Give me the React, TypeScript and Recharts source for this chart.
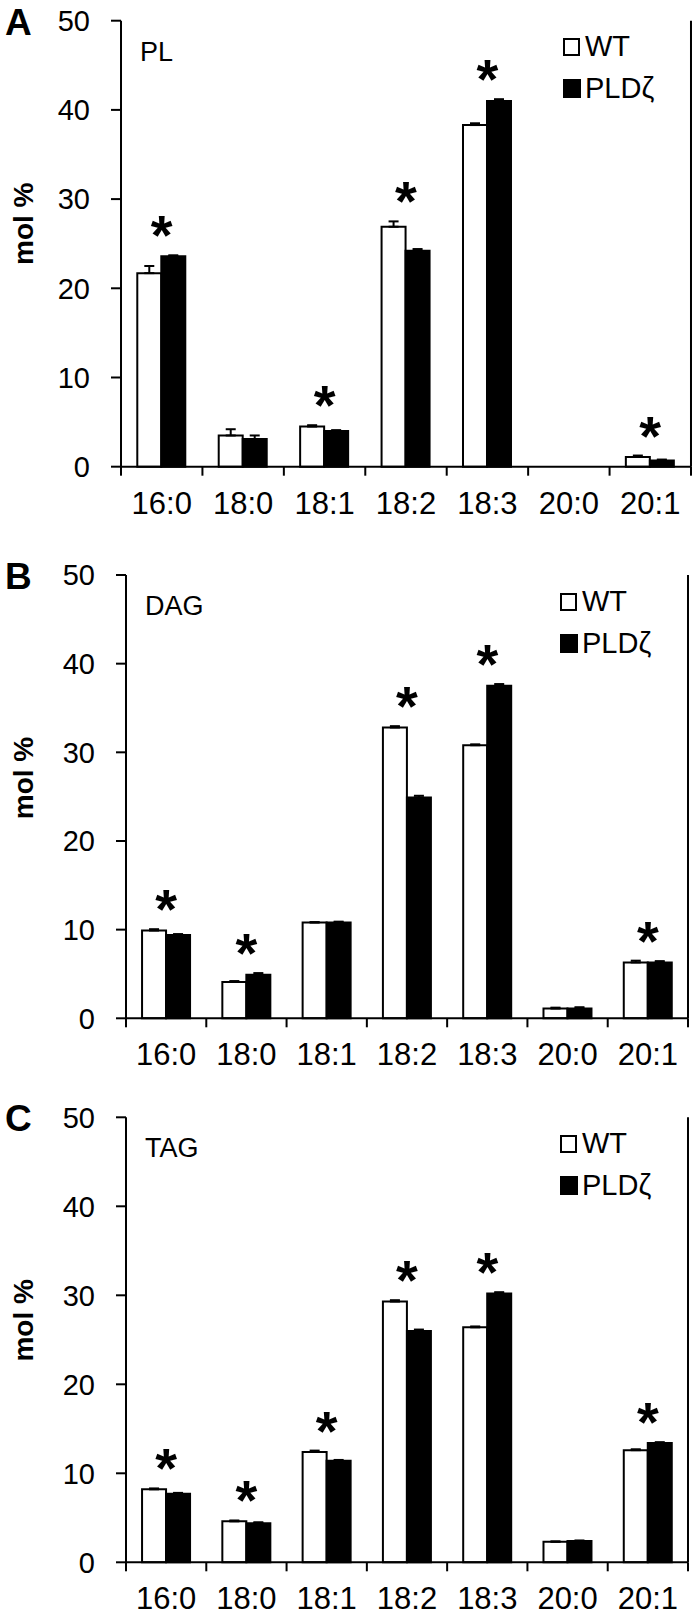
import React from "react";
import { ComposedChart, Bar, Line, XAxis, YAxis, ErrorBar, Legend } from "recharts";

const categories = ["16:0", "18:0", "18:1", "18:2", "18:3", "20:0", "20:1"];
const yTicks = [0, 10, 20, 30, 40, 50];

// PL
const plWt = [21.7, 3.5, 4.5, 26.9, 38.3, 0, 1.1];
const plWtErr = [0.8, 0.7, 0.15, 0.6, 0.2, 0, 0.15];
const plPld = [23.6, 3.1, 4.0, 24.2, 41.0, 0, 0.7];
const plPldErr = [0.1, 0.4, 0.1, 0.2, 0.2, 0, 0.1];
const plSig = [true, false, true, true, true, false, true];

// DAG
const dagWt = [9.9, 4.1, 10.8, 32.8, 30.8, 1.1, 6.3];
const dagWtErr = [0.15, 0.1, 0.05, 0.15, 0.1, 0.1, 0.2];
const dagPld = [9.4, 4.9, 10.8, 24.9, 37.5, 1.1, 6.3];
const dagPldErr = [0.1, 0.2, 0.1, 0.2, 0.2, 0.15, 0.15];
const dagSig = [true, true, false, true, true, false, true];

// TAG
const tagWt = [8.2, 4.6, 12.4, 29.3, 26.4, 2.3, 12.6];
const tagWtErr = [0.1, 0.1, 0.15, 0.15, 0.1, 0.05, 0.1];
const tagPld = [7.7, 4.4, 11.4, 26.0, 30.2, 2.4, 13.4];
const tagPldErr = [0.1, 0.1, 0.1, 0.15, 0.15, 0.05, 0.1];
const tagSig = [true, true, true, true, true, false, true];

const W = 697;
const FONT = "'Liberation Sans', Arial, sans-serif";

type PanelDef = {
  letter: string;
  title: string;
  wt: number[];
  wtErr: number[];
  pld: number[];
  pldErr: number[];
  sig: boolean[];
  top: number;
  plotTop: number;
  plotBottom: number;
  plotLeft: number;
  plotRight: number;
};

const panels: PanelDef[] = [
  { letter: "A", title: "PL", wt: plWt, wtErr: plWtErr, pld: plPld, pldErr: plPldErr, sig: plSig,
    top: 0, plotTop: 20.7, plotBottom: 466.7, plotLeft: 121, plotRight: 691 },
  { letter: "B", title: "DAG", wt: dagWt, wtErr: dagWtErr, pld: dagPld, pldErr: dagPldErr, sig: dagSig,
    top: 540, plotTop: 575, plotBottom: 1018.3, plotLeft: 126, plotRight: 688 },
  { letter: "C", title: "TAG", wt: tagWt, wtErr: tagWtErr, pld: tagPld, pldErr: tagPldErr, sig: tagSig,
    top: 1080, plotTop: 1117.3, plotBottom: 1562.3, plotLeft: 126, plotRight: 688 },
];

function CatTick(props: any) {
  const { x, y, payload, index, bw } = props;
  const last = index === categories.length - 1;
  return (
    <g>
      <line x1={x - bw / 2} x2={x - bw / 2} y1={y} y2={y + 9} stroke="#000" strokeWidth={2} />
      {last && <line x1={x + bw / 2} x2={x + bw / 2} y1={y} y2={y + 9} stroke="#000" strokeWidth={2} />}
      <text x={x} y={y + 47} textAnchor="middle" fontSize={31} fill="#000">
        {payload.value}
      </text>
    </g>
  );
}

function Star(props: any) {
  const { x, y, value } = props;
  if (value == null || y == null) return null;
  return (
    <text x={x} y={y - 1} textAnchor="middle" fontSize={56} fontWeight="bold" fill="#000">
      *
    </text>
  );
}

function LegendBox() {
  return (
    <div style={{ fontSize: 29, lineHeight: "42px", color: "#000", whiteSpace: "nowrap", fontFamily: FONT }}>
      <div>
        <span style={{ display: "inline-block", width: 13, height: 14, border: "2px solid #000", background: "#fff", marginRight: 5 }} />
        WT
      </div>
      <div>
        <span style={{ display: "inline-block", width: 18, height: 19, background: "#000", marginRight: 4 }} />
        PLDζ
      </div>
    </div>
  );
}

function Panel({ p }: { p: PanelDef }) {
  const data = categories.map((cat, i) => ({
    cat,
    wt: p.wt[i],
    pld: p.pld[i],
    wtErr: [0, p.wtErr[i]],
    pldErr: [0, p.pldErr[i]],
    star: p.sig[i] ? Math.max(p.wt[i] + p.wtErr[i], p.pld[i] + p.pldErr[i]) : null,
  }));
  const xh = 54;
  const mt = p.plotTop - p.top;
  const h = mt + (p.plotBottom - p.plotTop) + xh;
  const bw = (p.plotRight - p.plotLeft) / categories.length;
  const yMid = p.plotTop - p.top + 203;

  return (
    <div style={{ position: "absolute", left: 0, top: p.top, width: W, height: h }}>
      <ComposedChart
        width={W}
        height={h}
        data={data}
        margin={{ top: mt, right: 0, bottom: 0, left: 0 }}
        barCategoryGap="20%"
        barGap={0}
        style={{ overflow: "visible" }}
      >
        <XAxis
          dataKey="cat"
          height={xh}
          interval={0}
          tickSize={0}
          tickMargin={0}
          tickLine={false}
          axisLine={{ stroke: "#000", strokeWidth: 2 }}
          tick={(tp: any) => <CatTick {...tp} bw={bw} />}
        />
        <XAxis
          xAxisId="top"
          orientation="top"
          dataKey="cat"
          height={0}
          tick={false}
          tickLine={false}
          axisLine={{ stroke: "#000", strokeWidth: 2 }}
        />
        <YAxis
          width={p.plotLeft}
          domain={[0, 50]}
          ticks={yTicks}
          interval={0}
          tickSize={10}
          tickMargin={21}
          tick={{ fontSize: 29, fill: "#000" }}
          tickLine={{ stroke: "#000", strokeWidth: 2 }}
          axisLine={{ stroke: "#000", strokeWidth: 2 }}
        />
        <YAxis
          yAxisId="r"
          orientation="right"
          width={W - p.plotRight}
          domain={[0, 50]}
          tick={false}
          tickLine={false}
          axisLine={{ stroke: "#000", strokeWidth: 2 }}
        />
        <Legend
          layout="horizontal"
          verticalAlign="middle"
          align="center"
          content={() => <LegendBox />}
          wrapperStyle={{ left: p.plotRight - 128, top: p.plotTop - p.top + 4.5, width: "auto", height: "auto" }}
        />
        <Bar dataKey="wt" name="WT" fill="#fff" stroke="#000" strokeWidth={2} isAnimationActive={false}>
          <ErrorBar dataKey="wtErr" direction="y" width={5} stroke="#000" strokeWidth={2} />
        </Bar>
        <Bar dataKey="pld" name="PLDζ" fill="#000" stroke="#000" strokeWidth={2} isAnimationActive={false}>
          <ErrorBar dataKey="pldErr" direction="y" width={5} stroke="#000" strokeWidth={2} />
        </Bar>
        <Line
          dataKey="star"
          stroke="none"
          dot={false}
          activeDot={false}
          isAnimationActive={false}
          label={<Star />}
        />
      </ComposedChart>
      <svg
        width={W}
        height={h}
        style={{ position: "absolute", left: 0, top: 0, pointerEvents: "none" }}
      >
        <text x={5} y={mt + 14} fontSize={37} fontWeight="bold" fill="#000">
          {p.letter}
        </text>
        <text x={p.plotLeft + 19} y={mt + 40} fontSize={27} fill="#000">
          {p.title}
        </text>
        <text
          x={33}
          y={yMid}
          fontSize={28}
          fontWeight="bold"
          fill="#000"
          textAnchor="middle"
          transform={`rotate(-90, 33, ${yMid})`}
        >
          mol %
        </text>
      </svg>
    </div>
  );
}

export default function App() {
  return (
    <div style={{ position: "absolute", left: 0, top: 0, width: W, height: 1617, background: "#fff", fontFamily: FONT, overflow: "hidden" }}>
      {panels.map((p) => (
        <Panel key={p.letter} p={p} />
      ))}
    </div>
  );
}
